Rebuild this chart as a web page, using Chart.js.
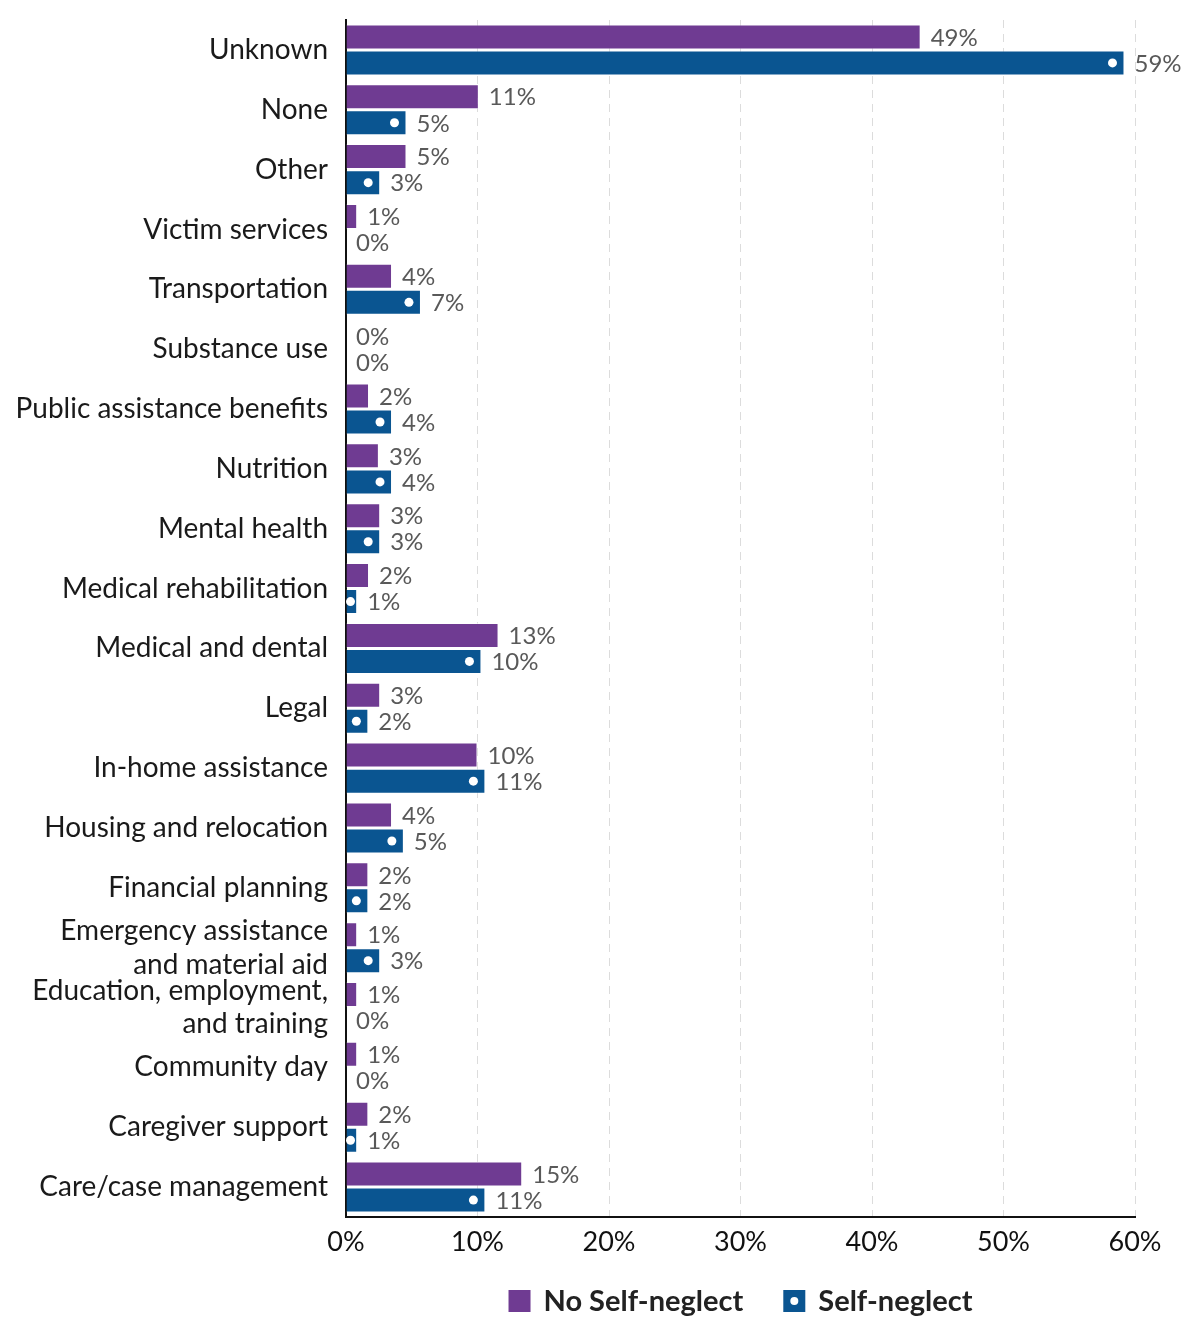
<!DOCTYPE html>
<html>
<head>
<meta charset="utf-8">
<script src="https://cdn.jsdelivr.net/npm/chart.js@4.4.1/dist/chart.umd.min.js"></script>
<style>
  body { margin: 0; background: #fff; }
  #wrap { width: 1183px; height: 1317px; }
</style>
</head>
<body>
<div id="wrap"><canvas id="myChart"></canvas></div>
<script>
const categories = [
  "Unknown", "None", "Other", "Victim services", "Transportation",
  "Substance use", "Public assistance benefits", "Nutrition", "Mental health",
  "Medical rehabilitation", "Medical and dental", "Legal", "In-home assistance",
  "Housing and relocation", "Financial planning",
  ["Emergency assistance", "and material aid"],
  ["Education, employment,", "and training"],
  "Community day", "Caregiver support", "Care/case management"
];

// bar lengths as drawn in the picture
const noSelfNeglect = [43.7, 10.1, 4.6, 0.85, 3.5, 0, 1.75, 2.5, 2.6, 1.75, 11.6, 2.6, 10.0, 3.5, 1.7, 0.85, 0.85, 0.85, 1.7, 13.4];
const selfNeglect = [59.2, 4.6, 2.6, 0, 5.7, 0, 3.5, 3.5, 2.6, 0.85, 10.3, 1.7, 10.6, 4.4, 1.7, 2.6, 0, 0, 0.85, 10.6];

// value labels as printed next to the bars
const noSelfNeglectLabels = [49, 11, 5, 1, 4, 0, 2, 3, 3, 2, 13, 3, 10, 4, 2, 1, 1, 1, 2, 15];
const selfNeglectLabels = [59, 5, 3, 0, 7, 0, 4, 4, 3, 1, 10, 2, 11, 5, 2, 3, 0, 0, 1, 11];

const xTicks = [0, 10, 20, 30, 40, 50, 60];

const purple = "#6f3b92";
const blue = "#0a5591";
const fontFamily = "Lato, 'Open Sans', sans-serif";

const valueLabels = {
  id: "valueLabels",
  afterDatasetsDraw(chart) {
    const ctx = chart.ctx;
    const texts = [noSelfNeglectLabels, selfNeglectLabels];
    ctx.save();
    ctx.font = "24px " + fontFamily;
    ctx.textBaseline = "middle";
    ctx.textAlign = "left";
    chart.data.datasets.forEach((ds, i) => {
      const meta = chart.getDatasetMeta(i);
      meta.data.forEach((bar, j) => {
        // white dot near the end of the self-neglect bars
        if (i === 1 && ds.data[j] > 0) {
          const dx = Math.max(bar.x - 12, bar.base + 4);
          ctx.fillStyle = "#fff";
          ctx.beginPath();
          ctx.arc(dx, bar.y, 4.5, 0, Math.PI * 2);
          ctx.fill();
        }
        ctx.fillStyle = "#595959";
        ctx.fillText(texts[i][j] + "%", bar.x + 10, bar.y + 1);
      });
    });
    ctx.restore();
  },
};

// legend drawn by hand so the spacing matches
const bottomLegend = {
  id: "bottomLegend",
  afterDraw(chart) {
    const ctx = chart.ctx;
    const area = chart.chartArea;
    const box = 22, gap = 13, itemGap = 40;
    const y = 1301;
    ctx.save();
    ctx.font = "bold 29px " + fontFamily;
    ctx.textBaseline = "middle";
    const items = chart.data.datasets.map((ds) => ({
      text: ds.label,
      color: ds.backgroundColor,
      w: box + gap + ctx.measureText(ds.label).width,
    }));
    const total = items.reduce((s, it) => s + it.w, 0) + itemGap * (items.length - 1);
    let x = (area.left + area.right) / 2 - total / 2;
    items.forEach((it, i) => {
      ctx.fillStyle = it.color;
      ctx.fillRect(x, y - box / 2, box, box);
      if (i === 1) {
        ctx.fillStyle = "#fff";
        ctx.beginPath();
        ctx.arc(x + box / 2, y, 4, 0, Math.PI * 2);
        ctx.fill();
      }
      ctx.fillStyle = "#222";
      ctx.fillText(it.text, x + box + gap, y + 1);
      x += it.w + itemGap;
    });
    ctx.restore();
  },
};

const data = {
  labels: categories,
  datasets: [
    {
      label: "No Self-neglect",
      data: noSelfNeglect,
      backgroundColor: purple,
      borderColor: "rgba(255,255,255,0.5)",
      borderWidth: 1,
      barPercentage: 0.96,
      categoryPercentage: 0.87,
    },
    {
      label: "Self-neglect",
      data: selfNeglect,
      backgroundColor: blue,
      borderColor: "rgba(255,255,255,0.5)",
      borderWidth: 1,
      barPercentage: 0.96,
      categoryPercentage: 0.87,
    },
  ],
};

const config = {
  type: "bar",
  data: data,
  options: {
    indexAxis: "y",
    responsive: true,
    maintainAspectRatio: false,
    animation: false,
    layout: {
      padding: { top: 20, right: 48, left: 0, bottom: 0 },
    },
    scales: {
      x: {
        min: 0,
        max: 60,
        afterBuildTicks(scale) {
          scale.ticks = xTicks.map((v) => ({ value: v }));
        },
        afterFit(scale) {
          scale.height = 100;
        },
        grid: {
          color: "#dcdcdc",
          lineWidth: 1,
          drawTicks: false,
        },
        border: {
          color: "#111",
          width: 2,
          dash: [8, 6],
        },
        ticks: {
          color: "#111",
          padding: 9,
          font: { size: 27, family: fontFamily },
          callback: (v) => v + "%",
        },
      },
      y: {
        afterFit(scale) {
          scale.width = 346;
          scale.paddingTop = 0;
          scale.paddingBottom = 0;
        },
        grid: {
          display: false,
        },
        border: {
          color: "#111",
          width: 2,
        },
        ticks: {
          color: "#1a1a1a",
          padding: 10,
          autoSkip: false,
          font: { size: 28, family: fontFamily, lineHeight: 1.2 },
        },
      },
    },
    plugins: {
      legend: { display: false },
      tooltip: { enabled: false },
    },
  },
  plugins: [valueLabels, bottomLegend],
};

const myChart = new Chart(document.getElementById("myChart"), config);
</script>
</body>
</html>
